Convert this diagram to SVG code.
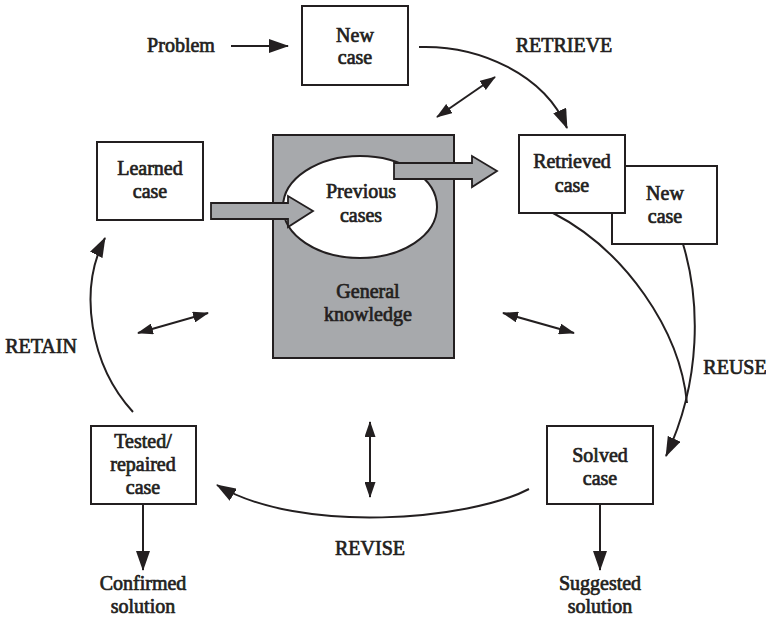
<svg xmlns="http://www.w3.org/2000/svg" width="766" height="618" viewBox="0 0 766 618">
  <style>
    .box { fill: #ffffff; stroke: #231f20; stroke-width: 2; }
    .kb { fill: #a7a9ac; stroke: #231f20; stroke-width: 2; }
    .blk { fill: #a7a9ac; stroke: #231f20; stroke-width: 1.8; stroke-linejoin: miter; }
    .t { font-size: 20px; fill: #231f20; stroke: #231f20; stroke-width: 0.7; text-anchor: middle; }
    .ln { fill: none; stroke: #231f20; stroke-width: 2; }
  </style>
  <defs>
    <marker id="ah" viewBox="0 0 20 14" refX="19" refY="7" markerWidth="20" markerHeight="14" markerUnits="userSpaceOnUse" orient="auto">
      <path d="M0,0 L20,7 L0,14 z" fill="#231f20"/>
    </marker>
    <marker id="ah2" viewBox="0 0 16 11" refX="15" refY="5.5" markerWidth="16" markerHeight="11" markerUnits="userSpaceOnUse" orient="auto-start-reverse">
      <path d="M0,0 L16,5.5 L0,11 z" fill="#231f20"/>
    </marker>
  </defs>

  <rect width="766" height="618" fill="#ffffff"/>

  <g font-family="Liberation Serif, serif" font-weight="normal">
  <!-- knowledge base with case memory -->
  <g id="general-knowledge">
    <rect class="kb" x="273" y="135" width="181" height="223"/>
    <ellipse cx="360" cy="207" rx="77" ry="51" fill="#ffffff" stroke="#231f20" stroke-width="2"/>
    <text class="t" x="361" y="198">Previous</text>
    <text class="t" x="361" y="222">cases</text>
    <text class="t" x="368" y="298">General</text>
    <text class="t" x="368" y="321">knowledge</text>
  </g>

  <!-- wide arrows into and out of the case memory -->
  <g id="flow-arrows">
    <polygon class="blk" points="211,203 288,203 288,196 313,211 288,227 288,219 211,219"/>
    <polygon class="blk" points="394,163 472,163 472,156 497,171 472,187 472,179 394,179"/>
  </g>

  <g id="problem">
    <text class="t" x="181" y="52">Problem</text>
  </g>

  <g id="new-case-top">
    <rect class="box" x="302" y="6" width="106" height="79"/>
    <text class="t" x="355" y="42">New</text>
    <text class="t" x="355" y="64">case</text>
  </g>

  <g id="new-case-side">
    <rect class="box" x="612" y="166" width="105" height="78"/>
    <text class="t" x="665" y="200">New</text>
    <text class="t" x="665" y="223">case</text>
  </g>

  <g id="retrieved-case">
    <rect class="box" x="519" y="135" width="106" height="78"/>
    <text class="t" x="572" y="168">Retrieved</text>
    <text class="t" x="572" y="192">case</text>
  </g>

  <g id="learned-case">
    <rect class="box" x="97" y="142" width="106" height="78"/>
    <text class="t" x="150" y="175">Learned</text>
    <text class="t" x="150" y="198">case</text>
  </g>

  <g id="tested-case">
    <rect class="box" x="91" y="426" width="105" height="78"/>
    <text class="t" x="143" y="448">Tested/</text>
    <text class="t" x="143" y="471">repaired</text>
    <text class="t" x="143" y="494">case</text>
  </g>

  <g id="solved-case">
    <rect class="box" x="547" y="426" width="106" height="78"/>
    <text class="t" x="600" y="462">Solved</text>
    <text class="t" x="600" y="485">case</text>
  </g>

  <g id="confirmed-solution">
    <text class="t" x="143" y="590">Confirmed</text>
    <text class="t" x="143" y="613">solution</text>
  </g>

  <g id="suggested-solution">
    <text class="t" x="600" y="590">Suggested</text>
    <text class="t" x="600" y="613">solution</text>
  </g>

  <!-- phase labels -->
  <g id="phase-labels">
    <text class="t" x="564" y="52">RETRIEVE</text>
    <text class="t" x="735" y="374">REUSE</text>
    <text class="t" x="370" y="555">REVISE</text>
    <text class="t" x="41" y="353">RETAIN</text>
  </g>
  </g>

  <g id="connectors">
    <line class="ln" x1="231" y1="46" x2="288" y2="46" marker-end="url(#ah)"/>
    <path class="ln" d="M419,47 C480,45 545,75 567,128" marker-end="url(#ah)"/>
    <path class="ln" d="M553,213 C625,250 680,330 687,403"/>
    <path class="ln" d="M683,244 C700,300 702,380 666,456" marker-end="url(#ah)"/>
    <path class="ln" d="M529,489 C470,520 300,535 217,485" marker-end="url(#ah)"/>
    <path class="ln" d="M133,412 C90,365 78,290 105,238" marker-end="url(#ah)"/>
    <line class="ln" x1="143" y1="504" x2="143" y2="570" marker-end="url(#ah)"/>
    <line class="ln" x1="600" y1="504" x2="600" y2="570" marker-end="url(#ah)"/>
    <!-- two-way links with the knowledge base -->
    <line class="ln" x1="437" y1="117" x2="495" y2="77" marker-start="url(#ah2)" marker-end="url(#ah2)"/>
    <line class="ln" x1="138" y1="333" x2="208" y2="313" marker-start="url(#ah2)" marker-end="url(#ah2)"/>
    <line class="ln" x1="503" y1="313" x2="574" y2="333" marker-start="url(#ah2)" marker-end="url(#ah2)"/>
    <line class="ln" x1="370" y1="422" x2="370" y2="497" marker-start="url(#ah2)" marker-end="url(#ah2)"/>
  </g>
</svg>
